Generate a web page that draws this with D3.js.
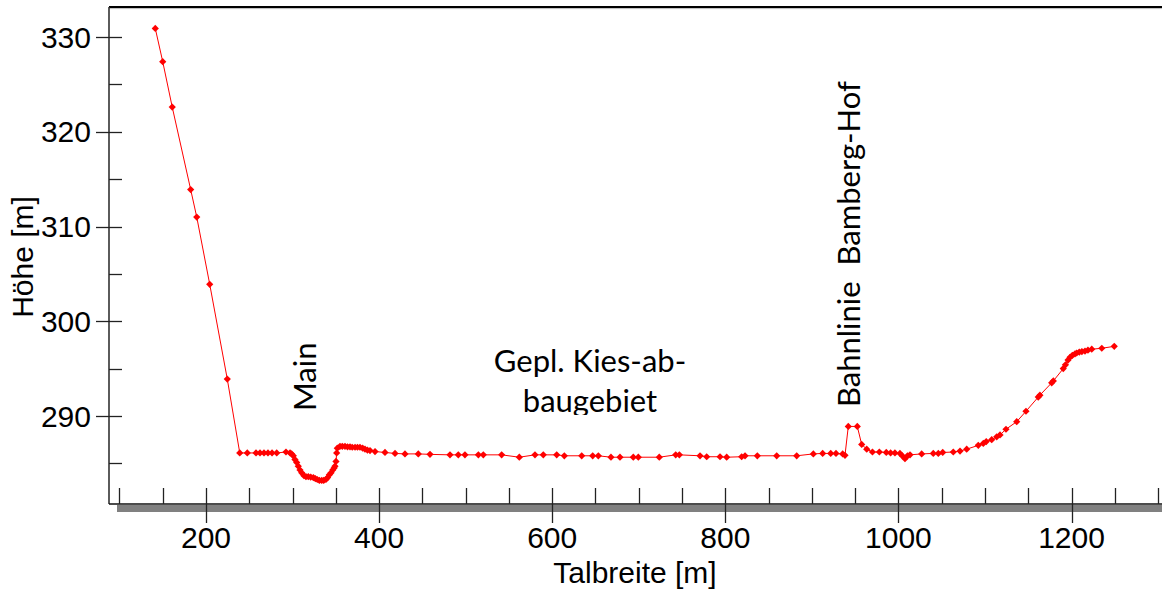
<!DOCTYPE html>
<html>
<head>
<meta charset="utf-8">
<script src="https://cdn.jsdelivr.net/npm/d3@7"></script>
<style>
  body { margin: 0; background: #fff; }
  svg { display: block; }
</style>
</head>
<body>
<svg id="chart"></svg>
<script>
// Talbreite [m] der Messpunkte
const talbreite = [
  141.4, 150.0, 161.0, 182.3, 189.3, 204.3, 224.6, 239.0,
  247.7, 257.8, 262.4, 267.0, 271.6, 276.3, 281.7, 292.4, 297.1,
  299.0, 300.9, 302.8, 304.8, 306.6, 308.6, 310.6, 313.2, 315.5, 318.2, 321.0, 324.0,
  326.3, 328.6, 331.0, 333.7, 336.0, 338.6, 340.5, 342.5, 344.5, 346.4, 348.0, 349.0,
  350.2, 351.0, 351.7, 354.8, 357.5, 360.6, 363.5, 366.4, 369.0, 372.2, 375.0, 377.9,
  381.0, 383.7, 386.5, 389.5, 395.3, 406.8, 418.4, 429.9, 445.3, 458.8, 481.9, 491.5,
  499.2, 514.7, 520.4, 541.6, 562.0, 580.1, 589.7, 605.2, 614.0, 634.1, 646.8, 653.3,
  667.9, 678.3, 693.7, 699.5, 723.7, 742.7, 746.9, 770.8, 778.5, 793.9, 801.6, 818.9,
  822.8, 837.0, 859.4, 882.5, 901.7, 912.5, 921.8, 927.9, 935.6, 938.3,
  942.1, 952.5, 957.6, 963.4, 970.0, 978.0, 986.0, 991.0, 996.0,
  1001.8, 1004.5, 1007.6, 1010.5, 1013.4, 1026.9, 1040.3, 1046.1, 1051.2, 1063.4, 1071.2,
  1078.9, 1092.3, 1098.1, 1101.5, 1107.8, 1113.6, 1117.4, 1124.3, 1136.7, 1147.4,
  1161.6, 1163.5, 1177.1, 1179.0, 1190.5, 1193.0, 1196.0, 1198.3, 1201.0, 1204.0,
  1206.0, 1209.0, 1212.0, 1215.6, 1219.0, 1223.4, 1235.0, 1249.4
];
// Höhe [m]
const hoehe = [
  330.9, 327.4, 322.6, 313.9, 311.0, 303.9, 293.9, 286.1,
  286.1, 286.1, 286.1, 286.1, 286.1, 286.1, 286.1, 286.2, 286.1,
  286.0, 285.8, 285.4, 285.1, 284.7, 284.3, 284.0, 283.7, 283.6, 283.6, 283.55, 283.5,
  283.4, 283.3, 283.2, 283.2, 283.2, 283.3, 283.5, 283.8, 284.0, 284.3, 284.5, 284.7,
  285.2, 286.1, 286.6, 286.8, 286.8, 286.8, 286.75, 286.75, 286.7, 286.7, 286.7, 286.7,
  286.6, 286.5, 286.4, 286.35, 286.25, 286.15, 286.05, 286.0, 286.0, 285.95, 285.9, 285.9,
  285.9, 285.9, 285.9, 285.9, 285.65, 285.9, 285.9, 285.9, 285.8, 285.8, 285.8, 285.8,
  285.65, 285.65, 285.65, 285.65, 285.65, 285.9, 285.9, 285.8, 285.7, 285.7, 285.65, 285.7,
  285.8, 285.8, 285.8, 285.8, 286.0, 286.05, 286.05, 286.05, 286.0, 285.85,
  288.9, 288.9, 287.0, 286.5, 286.2, 286.2, 286.15, 286.1, 286.1,
  286.05, 285.8, 285.5, 285.8, 285.9, 286.0, 286.05, 286.05, 286.15, 286.2, 286.3,
  286.5, 286.9, 287.1, 287.3, 287.5, 287.8, 288.0, 288.6, 289.4, 290.5,
  292.0, 292.2, 293.5, 293.7, 295.0, 295.4, 295.9, 296.2, 296.4, 296.55,
  296.65, 296.75, 296.8, 296.85, 296.95, 297.05, 297.15, 297.35
];

const xMajor = [200, 400, 600, 800, 1000, 1200];
const xMinor = [100, 150, 250, 300, 350, 450, 500, 550, 650, 700, 750, 850, 900, 950, 1050, 1100, 1150, 1250, 1300];
const yMajor = [290, 300, 310, 320, 330];
const yMinor = [285, 295, 305, 315, 325];

const W = 1162, H = 590;
const plotL = 109, plotT = 7, plotB = 504, plotR = 1180;

const svg = d3.select("#chart").attr("width", W).attr("height", H);

// 200 m liegt bei x=206, 0.8655 px je m; 290 m Höhe bei y=416, 9.475 px je m
const x = d3.scaleLinear().domain([200 - (206 - plotL) / 0.8655, 200 + (plotR - 206) / 0.8655]).range([plotL, plotR]);
const y = d3.scaleLinear().domain([290 - (plotB - 416) / 9.475, 290 + (416 - plotT) / 9.475]).range([plotB, plotT]);

const armFont = "'Liberation Sans', Arial, sans-serif";
const noteFont = "Lato, 'Open Sans', sans-serif";

// Rahmen: grauer Schatten unten, Achsenlinien
svg.append("rect").attr("x", 117).attr("y", plotB + 1).attr("width", W).attr("height", 7).attr("fill", "#808080");
svg.append("line").attr("x1", plotL).attr("x2", W + 10).attr("y1", plotT + 1.6).attr("y2", plotT + 1.6)
  .attr("stroke", "#bbb").attr("stroke-width", 1);
svg.append("line").attr("x1", plotL).attr("x2", W + 10).attr("y1", plotT).attr("y2", plotT)
  .attr("stroke", "#000").attr("stroke-width", 1.8);
svg.append("line").attr("x1", plotL).attr("x2", plotL).attr("y1", plotT).attr("y2", plotB)
  .attr("stroke", "#333").attr("stroke-width", 1.6);
svg.append("line").attr("x1", plotL).attr("x2", W + 10).attr("y1", plotB).attr("y2", plotB)
  .attr("stroke", "#111").attr("stroke-width", 1.6);

// x-Ticks
svg.selectAll(".xmaj").data(xMajor).enter().append("line")
  .attr("x1", d => Math.round(x(d)) + 0.5).attr("x2", d => Math.round(x(d)) + 0.5)
  .attr("y1", plotB - 16).attr("y2", plotB + 19)
  .attr("stroke", "#222").attr("stroke-width", 1.3);
svg.selectAll(".xmin").data(xMinor).enter().append("line")
  .attr("x1", d => Math.round(x(d)) + 0.5).attr("x2", d => Math.round(x(d)) + 0.5)
  .attr("y1", plotB - 16).attr("y2", plotB)
  .attr("stroke", "#222").attr("stroke-width", 1.3);
svg.selectAll(".xlab").data(xMajor).enter().append("text")
  .attr("x", d => x(d)).attr("y", 548)
  .attr("text-anchor", "middle")
  .style("font-family", armFont).style("font-size", "30px").attr("fill", "#000")
  .text(d => d);

// y-Ticks
svg.selectAll(".ymaj").data(yMajor).enter().append("line")
  .attr("x1", plotL - 13).attr("x2", plotL + 13)
  .attr("y1", d => Math.round(y(d)) + 0.5).attr("y2", d => Math.round(y(d)) + 0.5)
  .attr("stroke", "#222").attr("stroke-width", 1.3);
svg.selectAll(".ymin").data(yMinor).enter().append("line")
  .attr("x1", plotL).attr("x2", plotL + 13)
  .attr("y1", d => Math.round(y(d)) + 0.5).attr("y2", d => Math.round(y(d)) + 0.5)
  .attr("stroke", "#222").attr("stroke-width", 1.3);
svg.selectAll(".ylab").data(yMajor).enter().append("text")
  .attr("x", 91).attr("y", d => y(d) + 10.5)
  .attr("text-anchor", "end")
  .style("font-family", armFont).style("font-size", "30px").attr("fill", "#000")
  .text(d => d);

// Achsentitel
svg.append("text")
  .attr("x", 635).attr("y", 583).attr("text-anchor", "middle")
  .style("font-family", armFont).style("font-size", "30px")
  .text("Talbreite [m]");
svg.append("text")
  .attr("transform", "translate(33,257) rotate(-90)").attr("text-anchor", "middle")
  .style("font-family", armFont).style("font-size", "30px")
  .text("Höhe [m]");

// Profil
const pts = talbreite.map((t, i) => [t, hoehe[i]]);
svg.append("path")
  .datum(pts)
  .attr("fill", "none").attr("stroke", "#ff0000").attr("stroke-width", 1)
  .attr("d", d3.line().x(d => x(d[0])).y(d => y(d[1])));
svg.selectAll(".pt").data(pts).enter().append("path")
  .attr("d", d3.symbol().type(d3.symbolSquare).size(26))
  .attr("transform", d => `translate(${x(d[0])},${y(d[1])}) rotate(45)`)
  .attr("fill", "#ff0000");

// Beschriftungen
svg.append("clipPath").attr("id", "clipNote")
  .append("rect").attr("x", 0).attr("y", 0).attr("width", W).attr("height", 415);
const note = svg.append("text")
  .attr("clip-path", "url(#clipNote)")
  .attr("text-anchor", "middle")
  .style("font-family", noteFont).style("font-size", "31px").attr("fill", "#000");
note.append("tspan").attr("x", 590).attr("y", 372).text("Gepl. Kies-ab-");
note.append("tspan").attr("x", 590).attr("y", 412).text("baugebiet");

svg.append("text")
  .attr("transform", "translate(316,411) rotate(-90)")
  .style("font-family", noteFont).style("font-size", "31px").attr("fill", "#000")
  .text("Main");
svg.append("text")
  .attr("transform", "translate(860,407) rotate(-90)")
  .style("font-family", noteFont).style("font-size", "31px").attr("fill", "#000")
  .style("white-space", "pre")
  .text("Bahnlinie  Bamberg-Hof");
</script>
</body>
</html>
